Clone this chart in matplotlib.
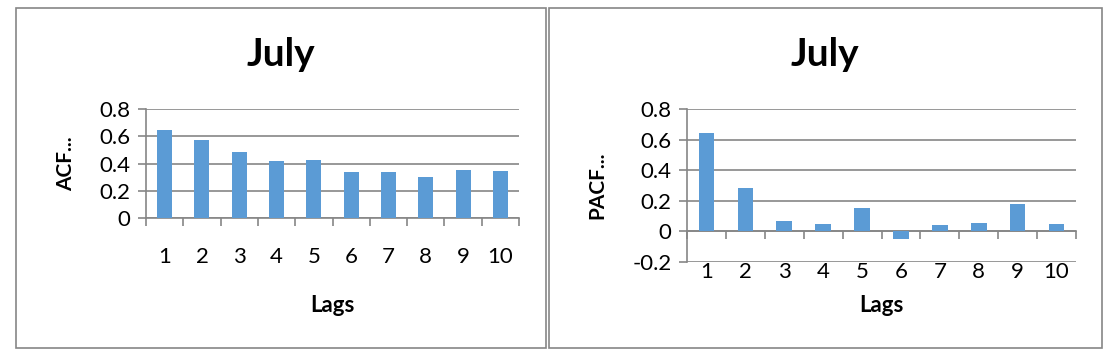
import matplotlib
matplotlib.use("Agg")
import matplotlib.pyplot as plt
import matplotlib.transforms as mtrans
from matplotlib.patches import Rectangle
import numpy as np

plt.rcParams['font.family'] = ['Lato', 'DejaVu Sans']

lags = [1, 2, 3, 4, 5, 6, 7, 8, 9, 10]
acf_vals = [0.648, 0.574, 0.481, 0.422, 0.427, 0.341, 0.334, 0.304, 0.353, 0.348]
pacf_vals = [0.641, 0.283, 0.065, 0.048, 0.152, -0.052, 0.041, 0.054, 0.178, 0.048]
acf_ticks = [0, 0.2, 0.4, 0.6, 0.8]
pacf_ticks = [-0.2, 0, 0.2, 0.4, 0.6, 0.8]

bar_col = '#5B9BD5'
grey = '#868686'
W, H = 1113, 363

fig = plt.figure(figsize=(W / 100, H / 100), dpi=100)

# chart frames
for x0, x1 in [(16, 546), (549, 1102)]:
    fig.patches.append(Rectangle((x0 / W, 1 - 348 / H), (x1 - x0) / W, (348 - 8) / H,
                                 transform=fig.transFigure, fill=False,
                                 edgecolor=grey, lw=1.2))


def rect_mid(rect):
    return (1 - rect[1] - rect[3] / 2) * H


def draw(rect, vals, ticks, ylab, title_x, ylab_x, xlab_y):
    ax = fig.add_axes(rect)
    ax.bar(lags, vals, width=0.4, color=bar_col, zorder=3)
    ax.set_xlim(0.5, 10.5)
    ax.set_ylim(ticks[0], ticks[-1])
    ax.set_yticks(ticks)
    ax.set_yticklabels(['0' if t == 0 else '%.1f' % t for t in ticks])
    ax.yaxis.grid(True, color=grey, lw=1.2, zorder=0)
    ax.set_axisbelow(True)
    for s in ['top', 'right']:
        ax.spines[s].set_visible(False)
    for s in ['left', 'bottom']:
        ax.spines[s].set_color(grey)
        ax.spines[s].set_linewidth(1.2)
    ax.spines['bottom'].set_position(('data', 0))
    ax.tick_params(axis='y', length=6, color=grey, width=1.2, labelsize=16, pad=5)
    # boundary marks between categories
    ax.set_xticks(np.arange(0.5, 11, 1))
    ax.set_xticklabels([])
    ax.tick_params(axis='x', length=6, color=grey, width=1.2)
    # category labels, placed well below the zero line like the original
    tr = mtrans.blended_transform_factory(ax.transData, fig.transFigure)
    for l in lags:
        ax.text(l, 1 - xlab_y / H, str(l), transform=tr,
                ha='center', va='center', fontsize=16)
    fig.text(ylab_x / W, 1 - rect_mid(rect) / H, ylab, rotation=90,
             ha='center', va='center', fontsize=15, fontweight='bold')
    fig.text(rect[0] + rect[2] / 2, 1 - 306 / H, 'Lags', ha='center', va='center',
             fontsize=16, fontweight='bold')
    fig.text(title_x / W, 1 - 55 / H, 'July', ha='center', va='center',
             fontsize=28, fontweight='bold')
    return ax


draw([146 / W, 1 - 218 / H, 373 / W, 109 / H], acf_vals, acf_ticks, 'ACF...', 281, 66, 257)
draw([687 / W, 1 - 262 / H, 389 / W, 153 / H], pacf_vals, pacf_ticks, 'PACF...', 825, 597, 272)

fig.savefig('out.png', dpi=100)
